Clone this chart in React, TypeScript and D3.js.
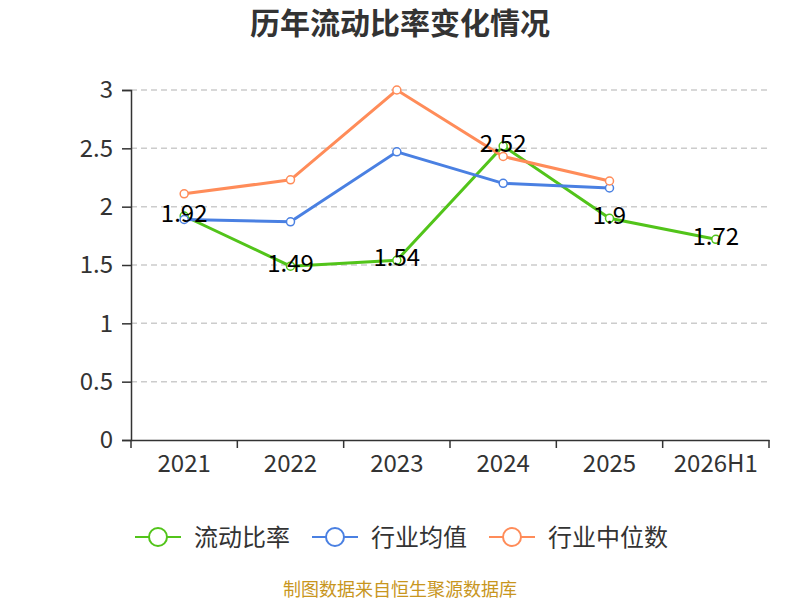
import { useEffect, useRef } from "react";
import * as d3 from "d3";

const years = ["2021", "2022", "2023", "2024", "2025", "2026H1"];
const ratio = [1.92, 1.49, 1.54, 2.52, 1.9, 1.72];
const industryAvg = [1.89, 1.87, 2.47, 2.2, 2.16];
const industryMedian = [2.11, 2.23, 3.0, 2.43, 2.22];
const yTicks = [0, 0.5, 1, 1.5, 2, 2.5, 3];

const series = [
  { name: "流动比率", values: ratio, color: "#52c41a" },
  { name: "行业均值", values: industryAvg, color: "#4a80e2" },
  { name: "行业中位数", values: industryMedian, color: "#ff8c59" },
];

const font = "'Noto Sans CJK SC', 'Noto Sans', sans-serif";

const App = () => {
  const svgRef = useRef<SVGSVGElement>(null);

  useEffect(() => {
    const svg = d3.select(svgRef.current);
    svg.selectAll("*").remove();

    const left = 131, right = 769, top = 90, bottom = 440;

    const x = d3.scaleBand().domain(years).range([left, right]);
    const y = d3.scaleLinear().domain([0, 3]).range([bottom, top]);
    const cx = (i: number) => (x(years[i]) as number) + x.bandwidth() / 2;

    // title
    svg
      .append("text")
      .attr("x", 400)
      .attr("y", 34)
      .attr("text-anchor", "middle")
      .attr("font-size", 30)
      .attr("font-weight", "bold")
      .attr("fill", "#333")
      .text("历年流动比率变化情况");

    // grid lines
    svg
      .append("g")
      .selectAll("line")
      .data(yTicks.filter((d) => d > 0))
      .join("line")
      .attr("x1", left)
      .attr("x2", right)
      .attr("y1", (d) => y(d))
      .attr("y2", (d) => y(d))
      .attr("stroke", "#ccc")
      .attr("stroke-width", 1.5)
      .attr("stroke-dasharray", "6,4");

    // y axis
    const yAxis = svg
      .append("g")
      .attr("transform", `translate(${left},0)`)
      .call(d3.axisLeft(y).tickValues(yTicks).tickSize(9).tickFormat((d) => String(d)));
    yAxis.select(".domain").attr("stroke", "#333").attr("stroke-width", 1.5);
    yAxis.selectAll(".tick line").attr("stroke", "#333").attr("stroke-width", 1.5);
    yAxis
      .selectAll(".tick text")
      .attr("font-size", 24)
      .attr("fill", "#333")
      .attr("font-family", font)
      .attr("x", -18);

    // x axis
    const xAxis = svg
      .append("g")
      .attr("transform", `translate(0,${bottom})`)
      .call(d3.axisBottom(x).tickSize(0).tickSizeOuter(0));
    xAxis.select(".domain").attr("stroke", "#333").attr("stroke-width", 1.5);
    xAxis
      .selectAll(".tick text")
      .attr("font-size", 24)
      .attr("fill", "#333")
      .attr("font-family", font)
      .attr("dy", "1.2em");
    // boundary ticks between bands
    xAxis
      .selectAll(".sep")
      .data([...years.map((d) => x(d) as number), right])
      .join("line")
      .attr("x1", (d) => d)
      .attr("x2", (d) => d)
      .attr("y1", 0)
      .attr("y2", 8)
      .attr("stroke", "#333")
      .attr("stroke-width", 1.5);

    // lines
    const line = d3
      .line<number>()
      .x((_, i) => cx(i))
      .y((d) => y(d));

    series.forEach((s) => {
      svg
        .append("path")
        .datum(s.values)
        .attr("d", line)
        .attr("fill", "none")
        .attr("stroke", s.color)
        .attr("stroke-width", 3);
    });

    series.forEach((s) => {
      svg
        .append("g")
        .selectAll("circle")
        .data(s.values)
        .join("circle")
        .attr("cx", (_, i) => cx(i))
        .attr("cy", (d) => y(d))
        .attr("r", 4)
        .attr("fill", "#fff")
        .attr("stroke", s.color)
        .attr("stroke-width", 1.5);
    });

    // data labels
    svg
      .append("g")
      .selectAll("text")
      .data(ratio)
      .join("text")
      .attr("x", (_, i) => cx(i))
      .attr("y", (d) => y(d) + 6)
      .attr("text-anchor", "middle")
      .attr("font-size", 24)
      .attr("font-family", font)
      .attr("fill", "#000")
      .text((d) => String(d));

    // legend
    const legendX = [135, 312, 489];
    const lg = svg.append("g");
    series.forEach((s, i) => {
      const g = lg.append("g").attr("transform", `translate(${legendX[i]},537)`);
      g.append("line")
        .attr("x1", 0)
        .attr("x2", 46)
        .attr("stroke", s.color)
        .attr("stroke-width", 2);
      g.append("circle")
        .attr("cx", 23)
        .attr("r", 9)
        .attr("fill", "#fff")
        .attr("stroke", s.color)
        .attr("stroke-width", 2);
      g.append("text")
        .attr("x", 59)
        .attr("y", 9)
        .attr("font-size", 24)
        .attr("font-family", font)
        .attr("fill", "#333")
        .text(s.name);
    });

    // footer
    svg
      .append("text")
      .attr("x", 400)
      .attr("y", 596)
      .attr("text-anchor", "middle")
      .attr("font-size", 18)
      .attr("font-family", font)
      .attr("fill", "#c8961e")
      .text("制图数据来自恒生聚源数据库");
  }, []);

  return (
    <svg
      ref={svgRef}
      width={800}
      height={600}
      style={{ position: "absolute", left: 0, top: 0, fontFamily: font }}
    ></svg>
  );
};

export default App;
